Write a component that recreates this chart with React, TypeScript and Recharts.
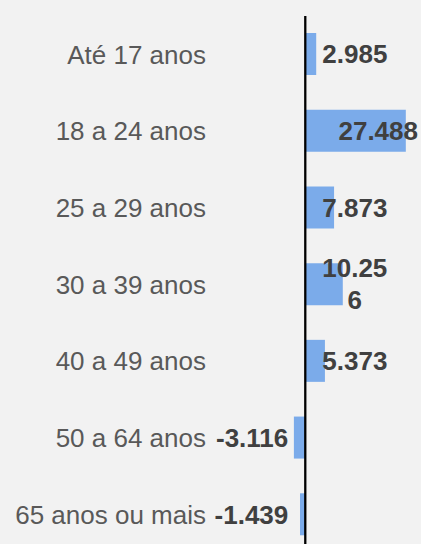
import React from "react";
import { BarChart, Bar, XAxis, YAxis, ReferenceLine, LabelList } from "recharts";

const categories = [
  "Até 17 anos",
  "18 a 24 anos",
  "25 a 29 anos",
  "30 a 39 anos",
  "40 a 49 anos",
  "50 a 64 anos",
  "65 anos ou mais",
];
const values = [2985, 27488, 7873, 10256, 5373, -3116, -1439];
const valueLabels = ["2.985", "27.488", "7.873", "10.25\n6", "5.373", "-3.116", "-1.439"];
const xDomain = [-5000, 30000];

const data = categories.map((c, i) => ({ cat: c, v: values[i], lbl: valueLabels[i] }));

const FONT = "'Liberation Sans', Arial, sans-serif";
const FS = 26;
const RIGHT_EDGE = 418;

const charW = (ch: string) => (ch === "." ? 0.278 : ch === "-" ? 0.333 : 0.556);
const textW = (s: string) => s.split("").reduce((a, c) => a + charW(c), 0) * FS;

const CategoryTick = (props: any) => {
  const { y, payload } = props;
  return (
    <text x={206} y={y} dy="0.355em" textAnchor="end" fontFamily={FONT} fontSize={FS} fill="#595959">
      {payload.value}
    </text>
  );
};

const ValueLabel = (props: any) => {
  const { x, y, width, height, index } = props;
  const v = values[index];
  const lines = valueLabels[index].split("\n");
  const x0 = Number(x);
  const x1 = Number(x) + Number(width);
  const zero = v >= 0 ? Math.min(x0, x1) : Math.max(x0, x1);
  const barEnd = v >= 0 ? Math.max(x0, x1) : Math.min(x0, x1);
  const cy = Number(y) + Number(height) / 2;
  const common = { fontFamily: FONT, fontSize: FS, fontWeight: 700, fill: "#404040" } as any;
  if (v < 0) {
    return (
      <text x={zero - 17} y={cy} dy="0.355em" textAnchor="end" {...common}>
        {lines[0]}
      </text>
    );
  }
  if (lines.length > 1) {
    const w = Math.max(...lines.map(textW));
    const cx = zero + 17 + w / 2;
    const lh = 32;
    const top = cy - ((lines.length - 1) * lh) / 2;
    return (
      <text textAnchor="middle" {...common}>
        {lines.map((l, i) => (
          <tspan key={i} x={cx} y={top + i * lh} dy="0.355em">
            {l}
          </tspan>
        ))}
      </text>
    );
  }
  const w = textW(lines[0]);
  const fitsOutside = barEnd + 5 + w <= RIGHT_EDGE;
  if (!fitsOutside) {
    return (
      <text x={RIGHT_EDGE} y={cy} dy="0.355em" textAnchor="end" {...common}>
        {lines[0]}
      </text>
    );
  }
  return (
    <text x={zero + 17} y={cy} dy="0.355em" textAnchor="start" {...common}>
      {lines[0]}
    </text>
  );
};

export default function App() {
  return (
    <div
      style={{
        position: "absolute",
        left: 0,
        top: 0,
        width: 421,
        height: 544,
        overflow: "hidden",
        background: "#f2f2f2",
      }}
    >
      <BarChart
        width={421}
        height={560}
        data={data}
        layout="vertical"
        margin={{ top: 16, right: 6, bottom: 7, left: 0 }}
        barSize={42}
      >
        <XAxis type="number" domain={xDomain} hide allowDataOverflow />
        <YAxis
          type="category"
          dataKey="cat"
          width={287}
          axisLine={false}
          tickLine={false}
          tick={<CategoryTick />}
          interval={0}
        />
        <Bar dataKey="v" fill="#7BABEA" isAnimationActive={false}>
          <LabelList dataKey="v" content={<ValueLabel />} />
        </Bar>
        <ReferenceLine x={0} stroke="#000000" strokeWidth={2.3} />
      </BarChart>
    </div>
  );
}
